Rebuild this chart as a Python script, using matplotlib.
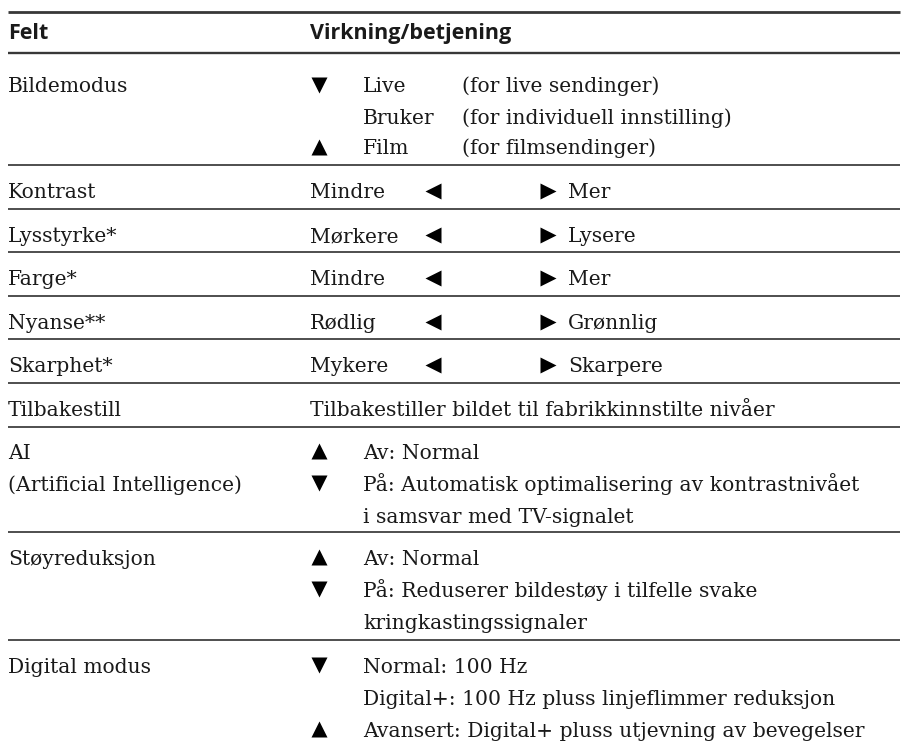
import matplotlib
matplotlib.use("Agg")
import matplotlib.pyplot as plt

# ---- data ----
header = ["Felt", "Virkning/betjening"]
fields = [["Bildemodus"], ["Kontrast"], ["Lysstyrke*"], ["Farge*"], ["Nyanse**"],
          ["Skarphet*"], ["Tilbakestill"], ["AI", "(Artificial Intelligence)"],
          ["Støyreduksjon"], ["Digital modus"]]
bildemodus = [("v", "Live", "(for live sendinger)"),
              ("", "Bruker", "(for individuell innstilling)"),
              ("^", "Film", "(for filmsendinger)")]
sliders = [("Mindre", "Mer"), ("Mørkere", "Lysere"), ("Mindre", "Mer"),
           ("Rødlig", "Grønnlig"), ("Mykere", "Skarpere")]
reset_text = "Tilbakestiller bildet til fabrikkinnstilte nivåer"
ai_items = [("^", "Av: Normal"),
            ("v", "På: Automatisk optimalisering av kontrastnivået"),
            ("", "i samsvar med TV-signalet")]
noise_items = [("^", "Av: Normal"),
               ("v", "På: Reduserer bildestøy i tilfelle svake"),
               ("", "kringkastingssignaler")]
digital_items = [("v", "Normal: 100 Hz"),
                 ("", "Digital+: 100 Hz pluss linjeflimmer reduksjon"),
                 ("^", "Avansert: Digital+ pluss utjevning av bevegelser")]

# ---- layout ----
W, H = 907, 745
fig = plt.figure(figsize=(W / 100, H / 100), dpi=100)
ax = fig.add_axes([0, 0, 1, 1])
ax.set_xlim(0, W)
ax.set_ylim(H, 0)
ax.axis("off")

serif = "DejaVu Serif"
fs = 14.6
col = "#1a1a1a"
line_col = "#383838"
X0, X1 = 8, 900
XC = 310
XS = 363
XD = 462
LS = 32

row_tops = [53, 165, 209, 252, 296, 339, 383, 427, 532, 640]
first_base = [92.5, 198, 242, 285, 329, 372, 416, 459, 565, 673]

# rules
ax.plot([X0, X1], [12, 12], color=line_col, lw=2.0, solid_capstyle="butt")
ax.plot([X0, X1], [53, 53], color=line_col, lw=1.7, solid_capstyle="butt")
for y in row_tops[1:]:
    ax.plot([X0, X1], [y, y], color=line_col, lw=1.25, solid_capstyle="butt")

# header
for x, s in zip([X0, XC], header):
    ax.text(x, 39, s, fontfamily="Open Sans", fontweight="bold", fontsize=15.5,
            va="baseline", ha="left", color=col)

def t(x, y, s):
    ax.text(x, y, s, fontfamily=serif, fontsize=fs, va="baseline", ha="left", color=col)

def sym(x, y, m):
    if m:
        ax.plot([x], [y], marker=m, ms=11, color="black", mec="none", ls="none")

# field column
for base, lines in zip(first_base, fields):
    for i, s in enumerate(lines):
        t(X0, base + i * LS, s)

# Bildemodus
b0 = first_base[0]
for i, (m, a, b) in enumerate(bildemodus):
    y = b0 + i * 31
    sym(319, y - 8, m)
    t(XS, y, a)
    t(XD, y, b)

# sliders
for base, (lo, hi) in zip(first_base[1:6], sliders):
    t(XC, base, lo)
    sym(433, base - 7.5, "<")
    sym(547.5, base - 7.5, ">")
    t(568, base, hi)

# reset
t(XC, first_base[6], reset_text)

for base, items in zip(first_base[7:], [ai_items, noise_items, digital_items]):
    for i, (m, a) in enumerate(items):
        y = base + i * LS
        sym(319, y - 8, m)
        t(XS, y, a)

fig.savefig("out.png", dpi=100, facecolor="white")
